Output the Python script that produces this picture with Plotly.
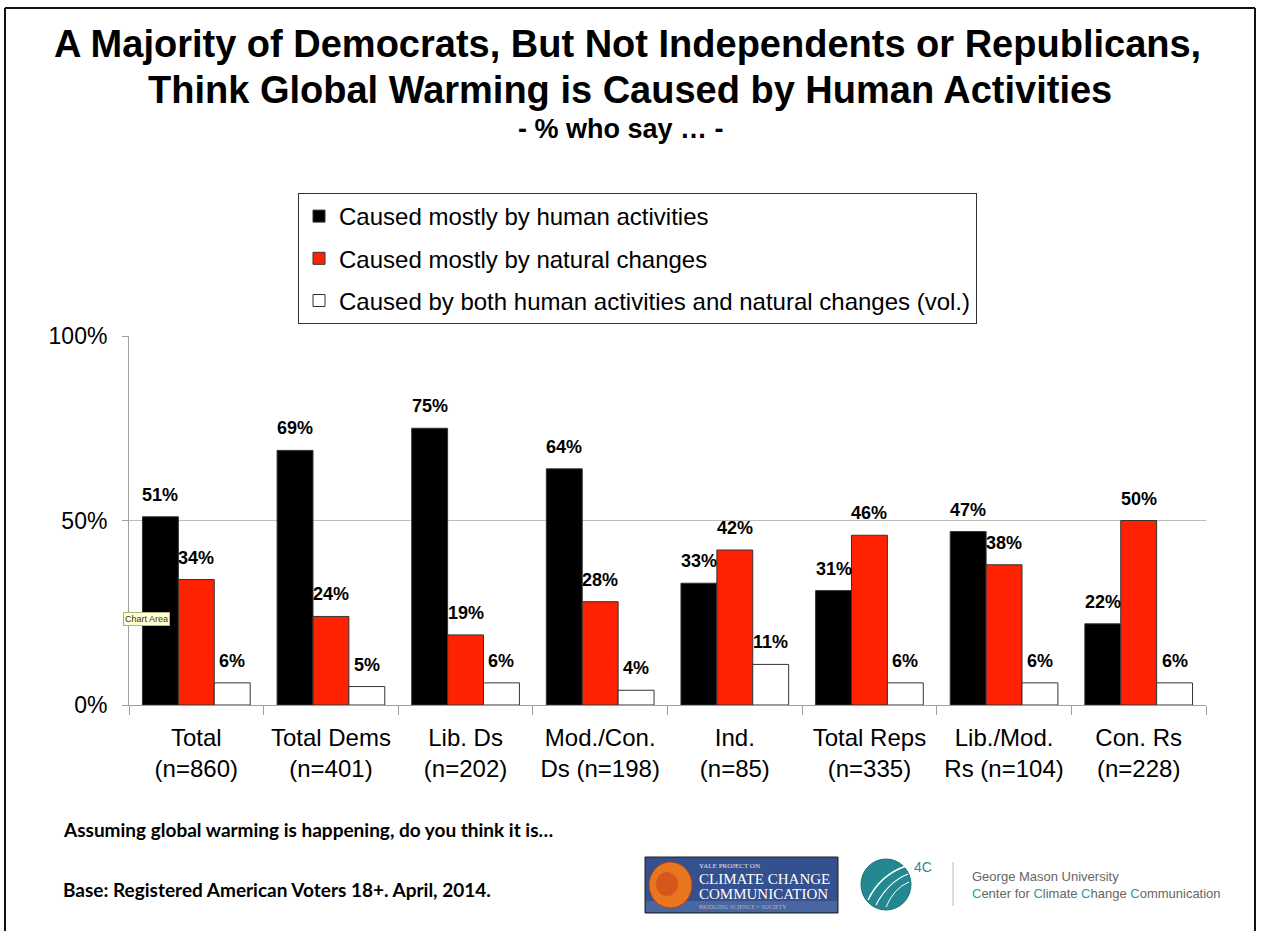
import plotly.graph_objects as go

# ---------------- data ----------------
categories = ["Total<br>(n=860)", "Total Dems<br>(n=401)", "Lib. Ds<br>(n=202)",
              "Mod./Con.<br>Ds (n=198)", "Ind.<br>(n=85)", "Total Reps<br>(n=335)",
              "Lib./Mod.<br>Rs (n=104)", "Con. Rs<br>(n=228)"]
human = [51, 69, 75, 64, 33, 31, 47, 22]
natural = [34, 24, 19, 28, 42, 46, 38, 50]
both = [6, 5, 6, 4, 11, 6, 6, 6]
series_names = ["Caused mostly by human activities",
                "Caused mostly by natural changes",
                "Caused by both human activities and natural changes (vol.)"]
y_tickvals = [0, 50, 100]
y_ticktext = ["0%", "50%", "100%"]

# ---------------- layout geometry ----------------
W, H = 1261, 931
L, R, T, B = 129, 55, 336, 226
PW, PH = W - L - R, H - T - B
BARGAP = 0.2


def xp(px):
    return (px - L) / PW


def yp(py):
    return (H - B - py) / PH


FONT = "Liberation Sans, Arial, sans-serif"
colors = ["#000000", "#FF2200", "#FFFFFF"]

fig = go.Figure()
for i, (name, vals) in enumerate(zip(series_names, [human, natural, both])):
    fig.add_trace(go.Bar(
        x=categories, y=vals, name=name, legendgroup=f"g{i}",
        marker=dict(color=colors[i], line=dict(color="#333333", width=1)),
        hoverinfo="skip",
    ))

# value labels above bars
bar_w = PW / len(categories) * (1 - BARGAP) / 3
annotations = []
for i, vals in enumerate([human, natural, both]):
    for c, v in zip(categories, vals):
        annotations.append(dict(
            x=c, y=v, xref="x", yref="y", text=f"<b>{v}%</b>", showarrow=False,
            xshift=(i - 1) * bar_w, yshift=10, yanchor="bottom",
            font=dict(family=FONT, size=18, color="#000000")))

# titles
annotations += [
    dict(x=xp(627), y=yp(44), xref="paper", yref="paper", showarrow=False,
         text="<b>A Majority of Democrats, But Not Independents or Republicans,</b>",
         font=dict(family=FONT, size=38, color="#000000"), xanchor="center", yanchor="middle"),
    dict(x=xp(630), y=yp(90), xref="paper", yref="paper", showarrow=False,
         text="<b>Think Global Warming is Caused by Human Activities</b>",
         font=dict(family=FONT, size=38, color="#000000"), xanchor="center", yanchor="middle"),
    dict(x=xp(621), y=yp(129), xref="paper", yref="paper", showarrow=False,
         text="<b>- % who say … -</b>",
         font=dict(family=FONT, size=27, color="#000000"), xanchor="center", yanchor="middle"),
    # footer
    dict(x=xp(61), y=yp(829), xref="paper", yref="paper", showarrow=False,
         text="<b>Assuming global warming is happening, do you think it is…</b>",
         font=dict(family="Lato, sans-serif", size=19, color="#000000"), xanchor="left", yanchor="middle"),
    dict(x=xp(61), y=yp(889), xref="paper", yref="paper", showarrow=False,
         text="<b>Base: Registered American Voters 18+. April, 2014.</b>",
         font=dict(family="Lato, sans-serif", size=19, color="#000000"), xanchor="left", yanchor="middle"),
    # "Chart Area" tooltip artefact
    dict(x=xp(123), y=yp(619), xref="paper", yref="paper", showarrow=False,
         text="Chart Area", bgcolor="#FFFFD0", bordercolor="#B0B080", borderwidth=1, borderpad=1,
         font=dict(family=FONT, size=9, color="#333333"), xanchor="left", yanchor="middle"),
    # Yale logo text
    dict(x=xp(697), y=yp(866), xref="paper", yref="paper", showarrow=False,
         text="YALE PROJECT ON", font=dict(family="Liberation Serif, serif", size=7, color="#E0E4F0"),
         xanchor="left", yanchor="middle"),
    dict(x=xp(697), y=yp(879), xref="paper", yref="paper", showarrow=False,
         text="CLIMATE CHANGE", font=dict(family="Liberation Serif, serif", size=15, color="#FFFFFF"),
         xanchor="left", yanchor="middle"),
    dict(x=xp(697), y=yp(894), xref="paper", yref="paper", showarrow=False,
         text="COMMUNICATION", font=dict(family="Liberation Serif, serif", size=15, color="#FFFFFF"),
         xanchor="left", yanchor="middle"),
    dict(x=xp(697), y=yp(907), xref="paper", yref="paper", showarrow=False,
         text="BRIDGING SCIENCE + SOCIETY", font=dict(family="Liberation Serif, serif", size=6, color="#A8B4D0"),
         xanchor="left", yanchor="middle"),
    # 4C logo text
    dict(x=xp(912), y=yp(867), xref="paper", yref="paper", showarrow=False,
         text="4C", font=dict(family=FONT, size=14, color="#2A8C93"),
         xanchor="left", yanchor="middle"),
    dict(x=xp(970), y=yp(876), xref="paper", yref="paper", showarrow=False,
         text="George Mason University", font=dict(family=FONT, size=13, color="#666666"),
         xanchor="left", yanchor="middle"),
    dict(x=xp(970), y=yp(893), xref="paper", yref="paper", showarrow=False,
         text=("<span style='color:#2A9CA0'>C</span>enter for <span style='color:#2A9CA0'>C</span>limate "
               "<span style='color:#2A9CA0'>C</span>hange <span style='color:#2A9CA0'>C</span>ommunication"),
         font=dict(family=FONT, size=13, color="#666666"), xanchor="left", yanchor="middle"),
]

shapes = [
    # slide border
    dict(type="line", xref="paper", yref="paper", x0=xp(5), x1=xp(1255), y0=yp(8), y1=yp(8),
         line=dict(color="#111111", width=2)),
    dict(type="line", xref="paper", yref="paper", x0=xp(5), x1=xp(5), y0=yp(8), y1=yp(931),
         line=dict(color="#111111", width=2)),
    dict(type="line", xref="paper", yref="paper", x0=xp(1255), x1=xp(1255), y0=yp(8), y1=yp(931),
         line=dict(color="#111111", width=2)),
    # Yale logo
    dict(type="rect", xref="paper", yref="paper", x0=xp(645), x1=xp(838), y0=yp(857), y1=yp(913),
         fillcolor="#34508E", line=dict(color="#222222", width=1)),
    dict(type="rect", xref="paper", yref="paper", x0=xp(646), x1=xp(837), y0=yp(901), y1=yp(912),
         fillcolor="#4A66A0", line=dict(width=0)),
    dict(type="circle", xref="paper", yref="paper", x0=xp(649), x1=xp(692), y0=yp(862), y1=yp(908),
         fillcolor="#E8761E", line=dict(color="#B2431A", width=1)),
    dict(type="circle", xref="paper", yref="paper", x0=xp(656), x1=xp(678), y0=yp(872), y1=yp(896),
         fillcolor="#D04A1A", line=dict(width=0), opacity=0.7),
    # 4C logo
    dict(type="circle", xref="paper", yref="paper", x0=xp(861), x1=xp(911), y0=yp(859), y1=yp(910),
         fillcolor="#23888F", line=dict(color="#1A7078", width=1)),
    dict(type="path", xref="paper", yref="paper",
         path=f"M {xp(868)} {yp(900)} Q {xp(880)} {yp(875)} {xp(906)} {yp(866)}",
         line=dict(color="#FFFFFF", width=1.5)),
    dict(type="path", xref="paper", yref="paper",
         path=f"M {xp(876)} {yp(905)} Q {xp(888)} {yp(882)} {xp(908)} {yp(874)}",
         line=dict(color="#FFFFFF", width=1.2)),
    dict(type="path", xref="paper", yref="paper",
         path=f"M {xp(886)} {yp(907)} Q {xp(894)} {yp(888)} {xp(909)} {yp(882)}",
         line=dict(color="#FFFFFF", width=1)),
    dict(type="line", xref="paper", yref="paper", x0=xp(953), x1=xp(953), y0=yp(862), y1=yp(906),
         line=dict(color="#BBBBBB", width=1)),
]

fig.update_layout(
    width=W, height=H,
    margin=dict(l=L, r=R, t=T, b=B, autoexpand=False),
    paper_bgcolor="#FFFFFF", plot_bgcolor="#FFFFFF",
    barmode="group", bargap=BARGAP, bargroupgap=0,
    font=dict(family=FONT, color="#000000"),
    showlegend=True,
    legend=dict(x=xp(298), y=yp(193), xanchor="left", yanchor="top",
                bordercolor="#333333", borderwidth=1, bgcolor="#FFFFFF",
                font=dict(family=FONT, size=24, color="#000000"),
                traceorder="grouped", tracegroupgap=8, itemclick=False),
    xaxis=dict(showline=True, linecolor="#A0A0A0", linewidth=1, ticks="outside",
               tickson="boundaries", ticklen=9, tickcolor="#A0A0A0",
               tickfont=dict(family=FONT, size=24, color="#000000"), ticklabelstandoff=11),
    yaxis=dict(range=[0, 100], tickvals=y_tickvals, ticktext=y_ticktext,
               showgrid=True, gridcolor="#BDBDBD", gridwidth=1, zeroline=False,
               showline=True, linecolor="#A0A0A0", linewidth=1, ticks="outside",
               ticklen=6, tickcolor="#A0A0A0", ticklabelstandoff=10,
               tickfont=dict(family=FONT, size=23, color="#000000")),
    annotations=annotations, shapes=shapes,
)

# remove the browser's default 8px body margin so the figure sits at the page origin
fig.write_html("out.html", config={"displayModeBar": False},
               post_script="document.body.style.margin='0px';")
